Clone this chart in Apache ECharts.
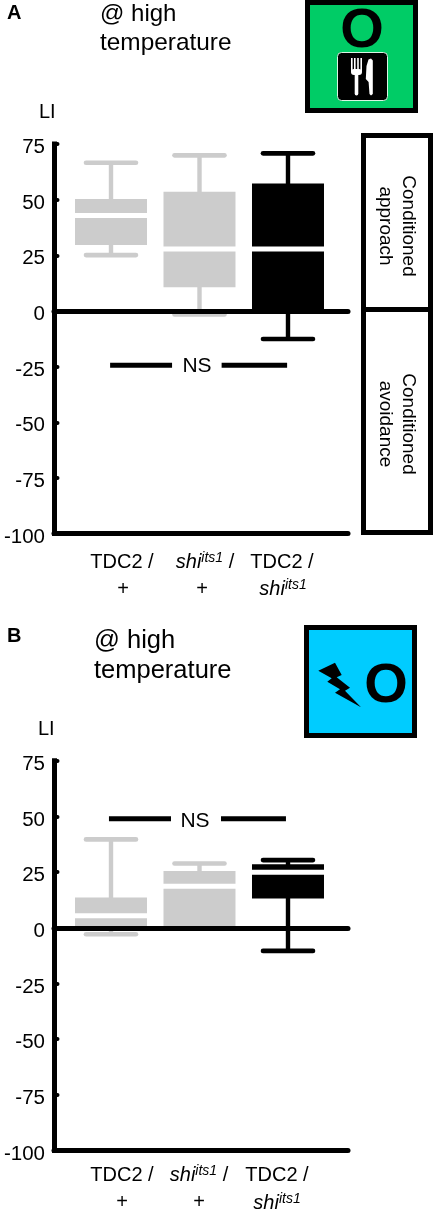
<!DOCTYPE html>
<html>
<head>
<meta charset="utf-8">
<title>LI boxes</title>
<script src="https://cdn.jsdelivr.net/npm/echarts@6/dist/echarts.min.js"></script>
<style>
  html, body { margin: 0; padding: 0; background: #fff; }
  #chart { width: 433px; height: 1229px; }
</style>
</head>
<body>
<div id="chart"></div>
<script>
// tick labels / categories
var yTicks = [75, 50, 25, 0, -25, -50, -75, -100];
var xPositions = [1, 2, 3];
var labelTop = ['{n|TDC2 /}', '{i|shi}{s|its1}{n| /}', '{n|TDC2 /}'];
var labelBottom = ['{n|+}', '{n|+}', '{i|shi}{s|its1}'];

// box values: low, q1, median, q3, high
var boxesA = [
    [25.1, 29.6, 42.9, 50.3, 66.6],
    [-1.6, 10.6, 27.8, 53.6, 69.9],
    [-12.6, 0.5, 27.8, 57.3, 70.8]
];
var boxesB = [
    [-2.9, 0.5, 5.4, 13.6, 39.7],
    [0, 0.5, 18.6, 25.5, 28.9],
    [-10.4, 13.2, 24.9, 28.5, 30.4]
];
var boxColors = ['#cccccc', '#cccccc', '#000000'];

// NS bracket: y value, two segments on the x scale
var nsA = { y: -24.4, labelY: -24.9, labelX: 1.972, parts: [[0.99, 1.69], [2.25, 2.99]] };
var nsB = { y: 49, labelY: 48, labelX: 1.949, parts: [[0.977, 1.678], [2.243, 2.977]] };

var FONT = '"Liberation Sans", Arial, sans-serif';
var PLOT_LEFT = 54, PLOT_WIDTH = 294, PLOT_HEIGHT = 389.6;
var X_MIN = 0.356, X_MAX = 3.678;

var richLabel = {
    n: { fontFamily: FONT, fontSize: 20, color: '#000' },
    i: { fontFamily: FONT, fontSize: 20, fontStyle: 'italic', color: '#000' },
    s: { fontFamily: FONT, fontSize: 14, fontStyle: 'italic', color: '#000', verticalAlign: 'bottom', padding: [0, 0, 7, 0] }
};

function xAxisDef(gridIndex, pos, onZero) {
    return {
        type: 'value', gridIndex: gridIndex, position: pos, min: X_MIN, max: X_MAX, z: 5,
        splitLine: { show: false }, axisTick: { show: false }, axisLabel: { show: false },
        axisLine: { show: true, onZero: onZero, lineStyle: { color: '#000', width: 5 } }
    };
}

function yAxisDef(gridIndex) {
    return {
        type: 'value', gridIndex: gridIndex, min: -100, max: 75, interval: 25, z: 5,
        splitLine: { show: false },
        axisLine: { show: true, onZero: false, lineStyle: { color: '#000', width: 5, cap: 'square' } },
        axisTick: { show: true, inside: true, length: 3.5, lineStyle: { color: '#000', width: 4, cap: 'round' } },
        // top + small lineHeight nudges the numbers a bit below their ticks, as in the figure
        axisLabel: { color: '#000', fontFamily: FONT, fontSize: 20.5, margin: 9, verticalAlign: 'top', lineHeight: 7 }
    };
}

function boxSeries(boxes, xIdx, yIdx) {
    return {
        type: 'custom', xAxisIndex: xIdx, yAxisIndex: yIdx, clip: false, z: 2,
        data: boxes.map(function (b, i) { return [xPositions[i]].concat(b); }),
        encode: { x: 0, y: [1, 2, 3, 4, 5] },
        renderItem: function (params, api) {
            var x = api.value(0);
            var color = boxColors[params.dataIndex];
            var low = api.coord([x, api.value(1)]);
            var q1 = api.coord([x, api.value(2)]);
            var med = api.coord([x, api.value(3)]);
            var q3 = api.coord([x, api.value(4)]);
            var high = api.coord([x, api.value(5)]);
            var cx = low[0];
            var stem = { stroke: color, lineWidth: 4.4 };
            var cap = { stroke: color, lineWidth: 4.6, lineCap: 'round' };
            return {
                type: 'group',
                children: [
                    { type: 'line', shape: { x1: cx, y1: low[1], x2: cx, y2: high[1] }, style: stem },
                    { type: 'line', shape: { x1: cx - 25, y1: low[1], x2: cx + 25, y2: low[1] }, style: cap },
                    { type: 'line', shape: { x1: cx - 25, y1: high[1], x2: cx + 25, y2: high[1] }, style: cap },
                    { type: 'rect', shape: { x: cx - 36, y: q3[1], width: 72, height: q1[1] - q3[1] }, style: { fill: color } },
                    { type: 'line', shape: { x1: cx - 37, y1: med[1], x2: cx + 37, y2: med[1] }, style: { stroke: '#fff', lineWidth: 5 } }
                ]
            };
        }
    };
}

function nsSeries(ns, xIdx, yIdx) {
    return {
        type: 'custom', xAxisIndex: xIdx, yAxisIndex: yIdx, clip: false, z: 3,
        data: ns.parts,
        encode: { x: [0, 1] },
        renderItem: function (params, api) {
            var a = api.coord([api.value(0), ns.y]);
            var b = api.coord([api.value(1), ns.y]);
            var kids = [{ type: 'line', shape: { x1: a[0], y1: a[1], x2: b[0], y2: b[1] }, style: { stroke: '#000', lineWidth: 5 } }];
            if (params.dataIndex === 0) {
                var t = api.coord([ns.labelX, ns.labelY]);
                kids.push({ type: 'text', x: t[0], y: t[1], style: { text: 'NS', fill: '#000', font: '21px ' + FONT, textAlign: 'center', textVerticalAlign: 'middle' } });
            }
            return { type: 'group', children: kids };
        }
    };
}

function text(x, y, str, size, extra) {
    var st = { text: str, fill: '#000', fontFamily: FONT, fontSize: size, textAlign: 'left', textVerticalAlign: 'middle' };
    extra = extra || {};
    for (var k in extra) st[k] = extra[k];
    return { type: 'text', x: x, y: y, style: st };
}

function richText(cx, cy, str) {
    return { type: 'text', x: cx, y: cy, style: { text: str, rich: richLabel, textAlign: 'center', textVerticalAlign: 'middle' } };
}

function frame(x, y, w, h, fill) {
    return { type: 'rect', shape: { x: x, y: y, width: w, height: h }, style: { fill: fill, stroke: '#000', lineWidth: 5 } };
}

function sideLabel(cy, str) {
    return {
        type: 'text', x: 396.5, y: cy, rotation: -Math.PI / 2,
        style: { text: str, fill: '#000', fontFamily: FONT, fontSize: 19, lineHeight: 23, textAlign: 'center', textVerticalAlign: 'middle' }
    };
}

var graphics = [
    // panel A
    text(7, 13, 'A', 20, { fontWeight: 'bold' }),
    text(100, 14, '@ high', 24),
    text(100, 43, 'temperature', 24.4),
    text(39, 112, 'LI', 20),
    frame(307.5, 2.5, 108, 108, '#00cc66'),
    text(362, 32, 'O', 56, { textAlign: 'center', fontWeight: 'bold' }),
    { type: 'rect', shape: { x: 337.5, y: 52.5, width: 50, height: 48, r: 4 }, style: { fill: '#000', stroke: '#d8f5e4', lineWidth: 1 } },
    // fork
    { type: 'rect', shape: { x: 351, y: 58, width: 1.6, height: 14 }, style: { fill: '#fff' } },
    { type: 'rect', shape: { x: 354, y: 58, width: 1.6, height: 14 }, style: { fill: '#fff' } },
    { type: 'rect', shape: { x: 357.2, y: 58, width: 1.6, height: 14 }, style: { fill: '#fff' } },
    { type: 'rect', shape: { x: 360.4, y: 58, width: 1.6, height: 14 }, style: { fill: '#fff' } },
    { type: 'rect', shape: { x: 351, y: 69, width: 11, height: 6, r: 3 }, style: { fill: '#fff' } },
    { type: 'rect', shape: { x: 354.7, y: 72, width: 3.6, height: 23.5, r: 1.8 }, style: { fill: '#fff' } },
    // knife
    { type: 'polygon', shape: { points: [[368.5, 59.5], [371, 58.5], [372.8, 60.5], [372.8, 94], [371, 95.5], [369.5, 94], [368.6, 82], [365.8, 79], [366.5, 66]] }, style: { fill: '#fff' } },
    frame(363.5, 135.5, 67, 174, '#fff'),
    frame(363.5, 309.5, 67, 223, '#fff'),
    sideLabel(226, 'Conditioned\napproach'),
    sideLabel(424, 'Conditioned\navoidance'),
    richText(122, 562, labelTop[0]),
    richText(205, 562, labelTop[1]),
    richText(282, 562, labelTop[2]),
    richText(123, 589, labelBottom[0]),
    richText(202, 589, labelBottom[1]),
    richText(283, 589, labelBottom[2]),
    // panel B
    text(7, 636, 'B', 20, { fontWeight: 'bold' }),
    text(94, 641, '@ high', 25.5),
    text(94, 671, 'temperature', 25.5),
    text(38, 729, 'LI', 20),
    frame(306.5, 627.5, 108, 108, '#00ccff'),
    text(386, 687, 'O', 56, { textAlign: 'center', fontWeight: 'bold' }),
    { type: 'polygon', shape: { points: [[318.3, 670.7], [335, 662.7], [341.7, 675], [336.7, 677.3], [350, 687.7], [345, 690.7], [361, 707.3], [335, 692.7], [340, 689.3], [327.3, 681.7], [331.7, 678.3]] }, style: { fill: '#000' } },
    richText(122, 1175, labelTop[0]),
    richText(199, 1175, labelTop[1]),
    richText(277, 1175, labelTop[2]),
    richText(122, 1202, labelBottom[0]),
    richText(199, 1202, labelBottom[1]),
    richText(277, 1203, labelBottom[2])
];

var myChart = echarts.init(document.getElementById('chart'), null, { renderer: 'canvas' });
myChart.setOption({
    animation: false,
    backgroundColor: '#fff',
    grid: [
        { left: PLOT_LEFT, top: 144, width: PLOT_WIDTH, height: PLOT_HEIGHT },
        { left: PLOT_LEFT, top: 760.8, width: PLOT_WIDTH, height: PLOT_HEIGHT }
    ],
    xAxis: [
        xAxisDef(0, 'top', true),
        xAxisDef(0, 'bottom', false),
        xAxisDef(1, 'top', true),
        xAxisDef(1, 'bottom', false)
    ],
    yAxis: [yAxisDef(0), yAxisDef(1)],
    series: [
        boxSeries(boxesA, 0, 0),
        nsSeries(nsA, 0, 0),
        boxSeries(boxesB, 2, 1),
        nsSeries(nsB, 2, 1)
    ],
    graphic: graphics
});
</script>
</body>
</html>
